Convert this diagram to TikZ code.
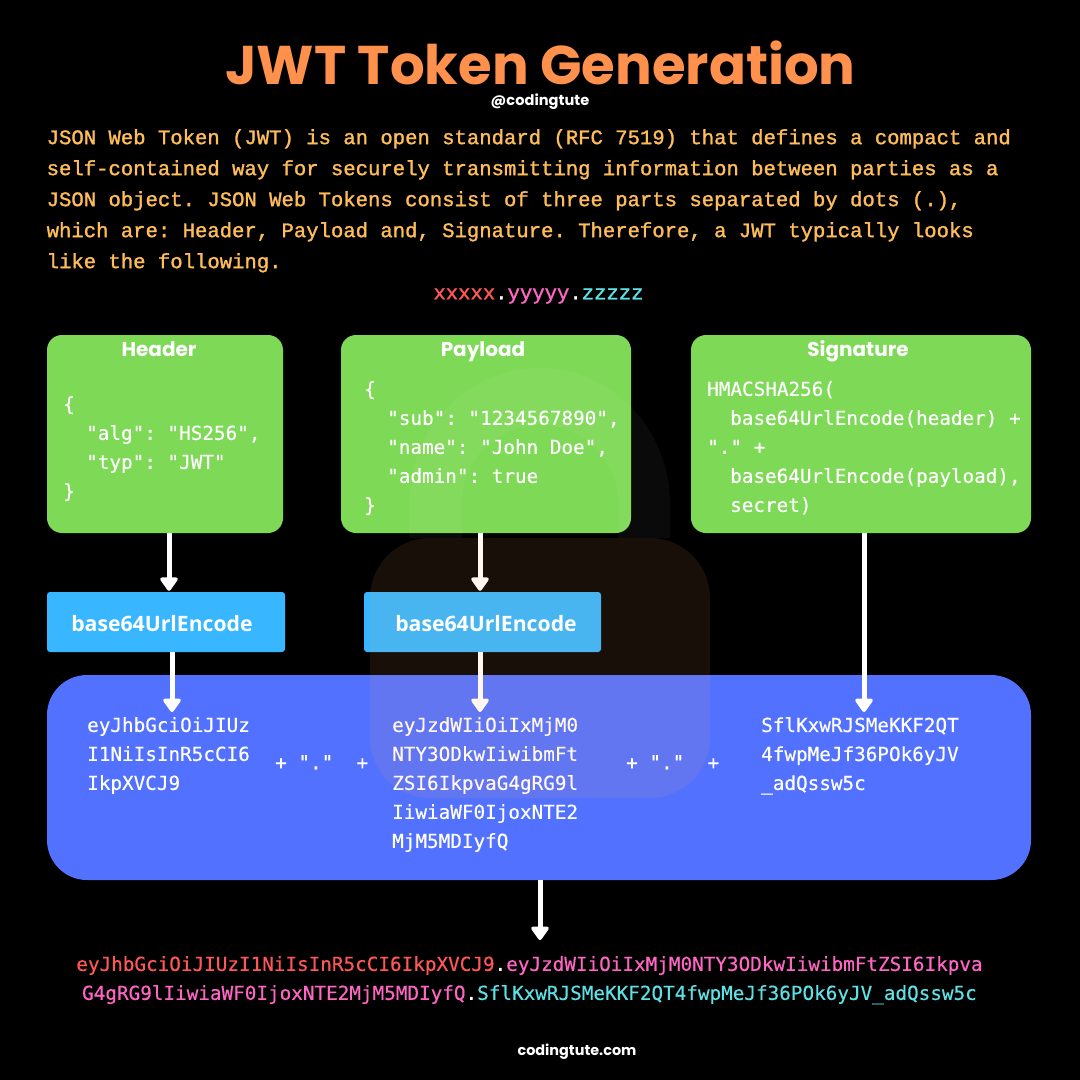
\documentclass[tikz,border=0pt]{standalone}
\usepackage{fontspec}
\usetikzlibrary{arrows.meta,calc}
\newfontfamily\titlefont{Poppins}[BoldFont=* Bold]
\newfontfamily\introfont{Liberation Mono}[FakeBold=1.4]
\newfontfamily\codefont{DejaVu Sans Mono}[FakeBold=0.4]
\newfontfamily\encfont{Open Sans}
\definecolor{bgblack}{HTML}{000000}
\definecolor{titleorange}{HTML}{FF914D}
\definecolor{introyellow}{HTML}{FFBD59}
\definecolor{boxgreen}{HTML}{7ED957}
\definecolor{boxcyan}{HTML}{38B6FF}
\definecolor{boxblue}{HTML}{5271FF}
\definecolor{tokred}{HTML}{FF5757}
\definecolor{tokpink}{HTML}{FF66C4}
\definecolor{tokteal}{HTML}{5CE1E6}
\definecolor{locktint}{HTML}{FFB060}
\newcommand{\ind}{\hspace*{23pt}}
\frenchspacing
\tikzset{
  greenbox/.style={fill=boxgreen,rounded corners=15pt,draw=none,inner sep=0pt},
  encbox/.style={fill=boxcyan,rounded corners=3pt,draw=none,inner sep=0pt},
  enclabel/.style={text=white,inner sep=0pt,font=\encfont\bfseries\fontsize{21.2}{25}\selectfont},
  heading/.style={text=white,inner sep=0pt,anchor=base,font=\titlefont\bfseries\fontsize{20}{24}\selectfont},
  codetext/.style={text=white,inner sep=0pt,anchor=north west,align=left,font=\frenchspacing\codefont\fontsize{19.3}{29}\selectfont},
  flow/.style={draw=white,line width=5pt,-{Triangle[length=15pt,width=20pt,round]}},
}
\begin{document}
\begin{tikzpicture}[x=1pt,y=-1pt]
\fill[bgblack] (0,0) rectangle (1080,1080);
\useasboundingbox (0,0) rectangle (1080,1080);
% title block
\node[inner sep=0pt,text=titleorange,font=\titlefont\bfseries\fontsize{54.5}{58}\selectfont] (title) at (540.5,63) {JWT Token Generation};
\node[inner sep=0pt,text=white,font=\titlefont\bfseries\fontsize{14.6}{16}\selectfont] (handle) at (540,102) {@codingtute};
\node[inner sep=0pt,anchor=north west,align=left,text=introyellow,font=\frenchspacing\introfont\fontsize{20.6}{31}\selectfont] (intro) at (46.5,129) {JSON Web Token (JWT) is an open standard (RFC 7519) that defines a compact and\\self-contained way for securely transmitting information between parties as a\\JSON object. JSON Web Tokens consist of three parts separated by dots (.),\\which are: Header, Payload and, Signature. Therefore, a JWT typically looks\\like the following.};
\node[inner sep=0pt,font=\introfont\fontsize{20.6}{25}\selectfont] (pattern) at (538.5,296) {\textcolor{tokred}{xxxxx}\textcolor{white}{.}\textcolor{tokpink}{yyyyy}\textcolor{white}{.}\textcolor{tokteal}{zzzzz}};
% boxes
\path[greenbox] (47,335) rectangle (283,533);
\node[minimum width=236pt,minimum height=198pt,inner sep=0pt] (hdr) at (165,434) {};
\path[greenbox] (341,335) rectangle (631,533);
\node[minimum width=290pt,minimum height=198pt,inner sep=0pt] (pay) at (486,434) {};
\path[greenbox] (691,335) rectangle (1031,533);
\node[minimum width=340pt,minimum height=198pt,inner sep=0pt] (sig) at (861,434) {};
\path[fill=boxblue,rounded corners=40pt] (47,675) rectangle (1031,880);
\node[minimum width=984pt,minimum height=205pt,inner sep=0pt] (panel) at (539,777.5) {};
\node[encbox,minimum width=238pt,minimum height=60pt] (enca) at (166,622) {};
\node[encbox,minimum width=237pt,minimum height=60pt] (encb) at (482.5,622) {};
% text anchors for arrows
\node[codetext] (ta) at (87,717) {eyJhbGciOiJIUz\\I1NiIsInR5cCI6\\IkpXVCJ9};
\node[codetext] (tb) at (392,717) {eyJzdWIiOiIxMjM0\\NTY3ODkwIiwibmFt\\ZSI6IkpvaG4gRG9l\\IiwiaWF0IjoxNTE2\\MjM5MDIyfQ};
\node[codetext] (tc) at (761,717) {SflKxwRJSMeKKF2QT\\4fwpMeJf36POk6yJV\\\_adQssw5c};
\node[inner sep=0pt,anchor=north,align=center,font=\codefont\fontsize{19.3}{29}\selectfont] (result) at (529.5,956) {\textcolor{tokred}{eyJhbGciOiJIUzI1NiIsInR5cCI6IkpXVCJ9}\textcolor{white}{.}\textcolor{tokpink}{eyJzdWIiOiIxMjM0NTY3ODkwIiwibmFtZSI6Ikpva}\\\textcolor{tokpink}{G4gRG9lIiwiaWF0IjoxNTE2MjM5MDIyfQ}\textcolor{white}{.}\textcolor{tokteal}{SflKxwRJSMeKKF2QT4fwpMeJf36POk6yJV\_adQssw5c}};
% connectors
\draw[flow] ([xshift=4pt]hdr.south) -- ([xshift=3pt,yshift=1pt]enca.north);
\draw[flow] ([xshift=-6pt]pay.south) -- ([xshift=-2.5pt,yshift=1pt]encb.north);
\draw[flow] ([xshift=6pt]enca.south) -- ([yshift=5pt]ta.north -| {$(enca.south)+(6,0)$});
\draw[flow] ([xshift=-2.5pt]encb.south) -- ([yshift=5pt]tb.north -| {$(encb.south)+(-2.5,0)$});
\draw[flow] ([xshift=3pt]sig.south) -- ([yshift=5pt]tc.north -| {$(sig.south)+(3,0)$});
\draw[flow] ([xshift=1pt]panel.south) -- ([yshift=16pt]result.north -| {$(panel.south)+(1,0)$});
% lock watermark
\fill[white,opacity=0.04] (409,538) -- (409,504) arc[start angle=180,end angle=360,x radius=130.5,y radius=136] -- (670,538) -- (618,538) -- (618,503) arc[start angle=0,end angle=-180,x radius=78,y radius=78] -- (462,538) -- cycle;
\fill[locktint,opacity=0.09,rounded corners=60pt] (370,538) rectangle (710,798);
% labels
\node[heading] (hh) at (159,356) {Header};
\node[heading] (hp) at (483,356) {Payload};
\node[heading] (hs) at (858,356) {Signature};
\node[enclabel] (la) at (162,624) {base64UrlEncode};
\node[enclabel] (lb) at (486,624) {base64UrlEncode};
\node[codetext] (ca) at (63,396) {\{\\\ind"alg": "HS256",\\\ind"typ": "JWT"\\\}};
\node[codetext] (cb) at (364,381) {\{\\\ind"sub": "1234567890",\\\ind"name": "John Doe",\\\ind"admin": true\\\}};
\node[codetext] (cc) at (707,381) {HMACSHA256(\\\ind base64UrlEncode(header) +\\"." +\\\ind base64UrlEncode(payload),\\\ind secret)};
\node[codetext] (pa) at (275,755) {+ "."\ \ +};
\node[codetext] (pb) at (626,755) {+ "."\ \ +};
% footer
\node[inner sep=0pt,text=white,font=\titlefont\bfseries\fontsize{14.4}{16}\selectfont] (foot) at (577,1052) {codingtute.com};
\end{tikzpicture}
\end{document}
